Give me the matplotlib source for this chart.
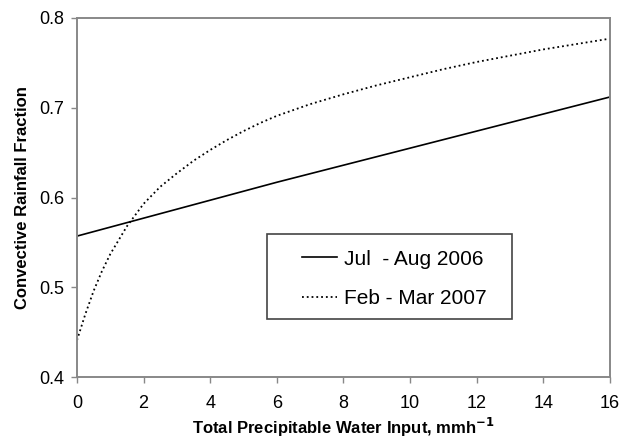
import matplotlib
matplotlib.use("Agg")
import matplotlib.pyplot as plt
from matplotlib.patches import Rectangle

plt.rcParams["font.family"] = ["Liberation Sans", "DejaVu Sans"]

x_jul = [0, 2, 4, 6, 8, 10, 12, 14, 16]
y_jul = [0.557, 0.577, 0.597, 0.617, 0.636, 0.655, 0.674, 0.693, 0.712]

x_feb = [0, 0.25, 0.5, 0.75, 1, 1.5, 2, 2.5, 3, 3.5, 4, 4.5, 5, 5.5, 6,
         7, 8, 9, 10, 11, 12, 13, 14, 15, 16]
y_feb = [0.441, 0.470, 0.496, 0.518, 0.537, 0.568, 0.593, 0.612, 0.627, 0.641, 0.653, 0.664,
         0.674, 0.683, 0.691, 0.704, 0.715, 0.725, 0.734, 0.743, 0.751, 0.758, 0.765, 0.771, 0.777]

labels = ["Jul  - Aug 2006", "Feb - Mar 2007"]

fig = plt.figure(figsize=(6.28, 4.41), dpi=100)
ax = fig.add_axes([0.1226, 0.1451, 0.8487, 0.8141])

ax.plot(x_jul, y_jul, color="black", linewidth=1.2, label=labels[0])
ax.plot(x_feb, y_feb, color="black", linewidth=1.3, linestyle=":", label=labels[1])

ax.set_xlim(0, 16)
ax.set_ylim(0.4, 0.8)
ax.set_xticks(range(0, 17, 2))
ax.set_yticks([0.4, 0.5, 0.6, 0.7, 0.8])
ax.set_yticklabels(["0.4", "0.5", "0.6", "0.7", "0.8"])

for s in ax.spines.values():
    s.set_color("#888888")
    s.set_linewidth(1.4)
ax.tick_params(direction="out", length=4, width=1, color="#888888", labelsize=13)
ax.tick_params(axis="x", pad=9)
ax.tick_params(axis="y", pad=5)

ax.set_xlabel("Total Precipitable Water Input, mmh$^{\\mathbf{-1}}$", fontsize=12,
              fontweight="bold", labelpad=3)
ax.set_ylabel("Convective Rainfall Fraction", fontsize=12, fontweight="bold", labelpad=7)

# legend frame drawn separately so the padding can be wider than tall
ax.add_patch(Rectangle((0.3565, 0.1616), 0.4595, 0.2364, transform=ax.transAxes,
                       fill=False, edgecolor="#444444", linewidth=1.2, zorder=5))
leg = ax.legend(loc="center left", bbox_to_anchor=(0.422, 0.273), fontsize=15,
                frameon=False, handlelength=1.7, borderpad=0, borderaxespad=0,
                labelspacing=1.0, handletextpad=0.3)

fig.savefig("out.png", dpi=100)
